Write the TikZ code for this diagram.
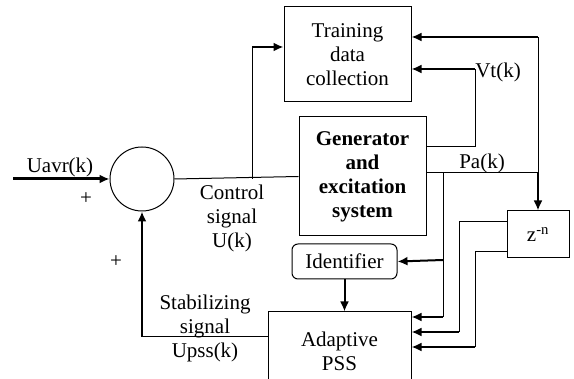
\documentclass[tikz,border=0pt]{standalone}
\usepackage{fontspec}
\setmainfont{Liberation Serif}
\usetikzlibrary{arrows.meta}

\begin{document}
\begin{tikzpicture}[x=1pt,y=-1pt,line width=1pt]
	\tikzstyle{bloc}=[draw,rectangle,align=center,inner sep=0pt,font=\fontsize{21}{24}\selectfont]
	\tikzstyle{fleche}=[-{Latex[length=10pt,width=9pt]}]
	\tikzstyle{epais}=[line width=2pt]
	\tikzstyle{etiq}=[align=center,inner sep=0pt,font=\fontsize{21}{24}\selectfont]
	\useasboundingbox (0,0) rectangle (574,379);
	\node[bloc,minimum width=127pt,minimum height=95pt] (train) at (347.5,54.5){Training\\data\\collection};
	\node[bloc,minimum width=127pt,minimum height=119pt,font=\fontsize{21}{24}\selectfont\bfseries] (gen) at (362.5,176.5){Generator\\and\\excitation\\system};
	\node[draw,circle,minimum size=64pt,inner sep=0pt] (sum) at (142,179){};
	\node[bloc,rounded corners=6pt,minimum width=105pt,minimum height=35pt] (ident) at (344.5,261.5){Identifier};
	\node[bloc,minimum width=143pt,minimum height=78pt] (pss) at (339.5,351){Adaptive\\PSS};
	\node[bloc,minimum width=62pt,minimum height=47pt] (zn) at (538,234.5){z\textsuperscript{-n}};
	\coordinate (in) at (13,179);
	\coordinate (br) at (252,179);
	\coordinate (vt) at (475,69);
	\coordinate (pa) at (538,173);
	\coordinate (brpa) at (443,173);
	\coordinate (brid) at (443,260);
	\coordinate (za) at (459,332);
	\coordinate (zb) at (475,347);
	\coordinate (stab) at (142,337);
%	signal path
	\draw[fleche,line width=3pt] (in) -- (sum.west);
	\draw (sum.east) -- (gen.west);
	\draw (br) -- (br |- 0,47);
	\draw[fleche,epais] (br |- 0,47) -- (train.west |- 0,47);
	\draw (gen.east |- 0,147) -| (vt);
	\draw[fleche,epais] (vt) -- (train.east |- vt);
	\draw (gen.east |- pa) -- (pa) -- (pa |- 0,37);
	\draw[fleche,epais] (pa |- 0,37) -- (train.east |- 0,37);
	\draw[fleche,epais] (pa) -- (zn.north);
	\draw (brpa) -- (brpa |- 0,317);
	\draw[fleche,epais] (brpa |- 0,317) -- (pss.east |- 0,317);
	\draw[fleche,epais] (brid) -- (ident.east);
	\draw[fleche,epais] (ident.south) -- (ident.south |- pss.north);
	\draw (zn.west |- 0,222) -| (za);
	\draw[fleche,epais] (za) -- (pss.east |- za);
	\draw (zn.west |- 0,252) -| (zb);
	\draw[fleche,epais] (zb) -- (pss.east |- zb);
	\draw (pss.west |- stab) -- (stab);
	\draw[fleche,epais] (stab) -- (sum.south);
%	labels
	\node[etiq] (luavr) at (60,167){Uavr(k)};
	\node[etiq] (plus1) at (86,199){+};
	\node[etiq] (plus2) at (116,262){+};
	\node[etiq] (lctrl) at (232,218){Control\\signal\\U(k)};
	\node[etiq] (lvt) at (498,72){Vt(k)};
	\node[etiq] (lpa) at (482,163){Pa(k)};
	\node[etiq] (lstab) at (205,328){Stabilizing\\signal\\Upss(k)};
\end{tikzpicture}
\end{document}
